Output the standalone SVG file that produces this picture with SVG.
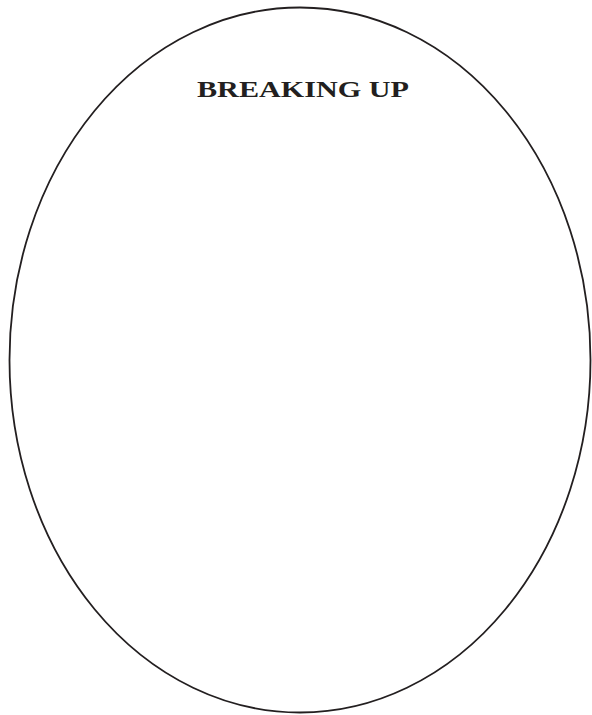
<svg xmlns="http://www.w3.org/2000/svg" width="592" height="715" viewBox="0 0 592 715">
<style>
.shape{fill:#ffffff;stroke:#231f20;stroke-width:1.8}
.title{font-family:"Liberation Serif","Times New Roman",serif;font-weight:bold;font-size:24px;fill:#231f20}
</style>
<rect width="592" height="715" fill="#ffffff"/>
<g id="oval">
<ellipse class="shape" cx="300" cy="360" rx="290.5" ry="352.5"/>
<text class="title" x="303" y="97" text-anchor="middle" textLength="212" lengthAdjust="spacingAndGlyphs">BREAKING UP</text>
</g>
</svg>
